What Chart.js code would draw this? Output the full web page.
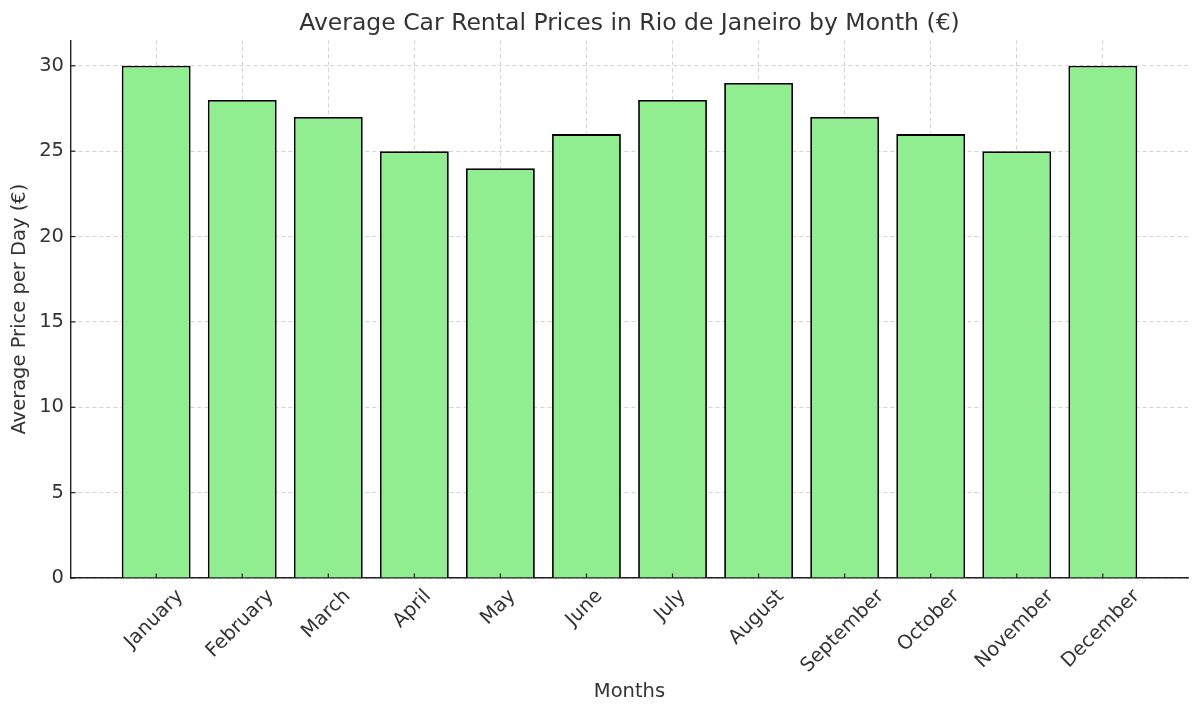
<!DOCTYPE html>
<html>
<head>
<meta charset="utf-8">
<script src="https://cdn.jsdelivr.net/npm/chart.js@4"></script>
<style>
  html, body { margin: 0; padding: 0; background: #fff; }
  #wrap { width: 1200px; height: 716px; }
</style>
</head>
<body>
<div id="wrap"><canvas id="chart" width="1200" height="716"></canvas></div>
<script>
const months = ['January', 'February', 'March', 'April', 'May', 'June', 'July',
  'August', 'September', 'October', 'November', 'December'];
const prices = [30, 28, 27, 25, 24, 26, 28, 29, 27, 26, 25, 30];
const yTicks = [0, 5, 10, 15, 20, 25, 30];

const FONT = 'DejaVu Sans';
const TEXT = '#333333';
const LABEL_SIZE = 19.5;

// matplotlib-style rotated labels (centred on the tick) plus inward tick marks
const monthLabels = {
  id: 'monthLabels',
  afterDraw(chart) {
    const { ctx, scales: { x, y } } = chart;
    ctx.save();
    ctx.strokeStyle = '#222';
    ctx.lineWidth = 1.2;
    months.forEach((m, i) => {
      const px = x.getPixelForValue(i);
      ctx.beginPath();
      ctx.moveTo(px, y.bottom);
      ctx.lineTo(px, y.bottom - 4.5);
      ctx.stroke();
    });
    yTicks.forEach(v => {
      const py = y.getPixelForValue(v);
      ctx.beginPath();
      ctx.moveTo(x.left, py);
      ctx.lineTo(x.left + 4.5, py);
      ctx.stroke();
    });
    ctx.font = LABEL_SIZE + 'px "' + FONT + '"';
    ctx.fillStyle = TEXT;
    ctx.textAlign = 'center';
    ctx.textBaseline = 'middle';
    const h = LABEL_SIZE * 1.05;
    months.forEach((m, i) => {
      const px = x.getPixelForValue(i) - 2;
      const w = ctx.measureText(m).width;
      const cy = y.bottom + 8 + (w + h) * Math.SQRT1_2 / 2;
      ctx.save();
      ctx.translate(px, cy);
      ctx.rotate(-Math.PI / 4);
      ctx.fillText(m, 0, 0);
      ctx.restore();
    });
    ctx.restore();
  }
};

// grid lines take their dash from border.dash in Chart.js v4
const grid = { color: 'rgba(0,0,0,0.22)', lineWidth: 0.8, drawTicks: false, offset: false };
const border = { display: true, color: '#222', width: 1.4, dash: [4, 3] };

new Chart(document.getElementById('chart'), {
  type: 'bar',
  data: {
    datasets: [{
      label: 'Average Price per Day (€)',
      data: prices.map((v, i) => ({ x: i, y: v })),
      backgroundColor: '#90ee90',
      borderColor: '#000000',
      borderWidth: 1.8,
      categoryPercentage: 1,
      barPercentage: 0.8
    }]
  },
  options: {
    responsive: false,
    animation: false,
    layout: { padding: { left: 0, right: 12, top: 0, bottom: 0 } },
    plugins: {
      legend: { display: false },
      tooltip: { enabled: false },
      title: {
        display: true,
        fullSize: false,
        text: 'Average Car Rental Prices in Rio de Janeiro by Month (€)',
        color: TEXT,
        font: { family: FONT, size: 23.5, weight: 'normal' },
        padding: { top: 10, bottom: 2 }
      }
    },
    scales: {
      x: {
        type: 'linear',
        offset: false,
        min: -0.99,
        max: 11.99,
        z: 1,
        afterBuildTicks: s => { s.ticks = months.map((m, i) => ({ value: i })); },
        afterFit: s => { s.height = 138; },
        ticks: { display: false },
        grid: grid,
        border: border,
        title: {
          display: true,
          text: 'Months',
          color: TEXT,
          font: { family: FONT, size: LABEL_SIZE },
          padding: { top: 0, bottom: 12 }
        }
      },
      y: {
        min: 0,
        max: 31.5,
        z: 1,
        afterBuildTicks: s => { s.ticks = yTicks.map(v => ({ value: v })); },
        afterFit: s => { s.width = 71; },
        ticks: {
          color: TEXT,
          font: { family: FONT, size: LABEL_SIZE },
          padding: 7
        },
        grid: grid,
        border: border,
        title: {
          display: true,
          text: 'Average Price per Day (€)',
          color: TEXT,
          font: { family: FONT, size: LABEL_SIZE },
          padding: { top: 8, bottom: 0 }
        }
      }
    }
  },
  plugins: [monthLabels]
});
</script>
</body>
</html>
